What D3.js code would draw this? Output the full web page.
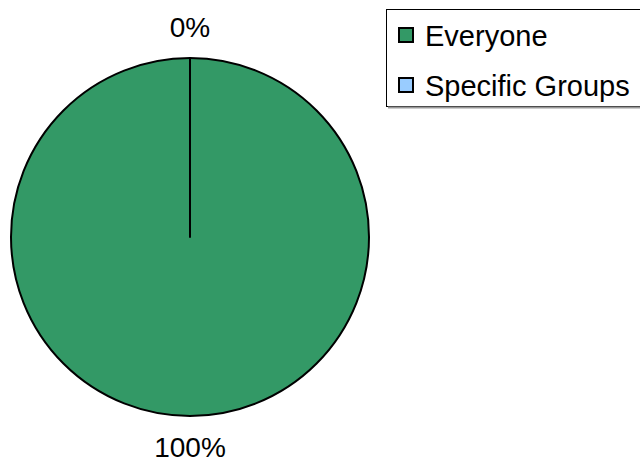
<!DOCTYPE html>
<html><head><meta charset="utf-8">
<script src="https://cdn.jsdelivr.net/npm/d3@7"></script>
<style>body{margin:0;background:#fff}svg{display:block;font-family:"Liberation Sans",Arial,sans-serif}</style>
</head><body><svg id="c" width="640" height="461"></svg>
<script>
const categories = ["Everyone", "Specific Groups"];
const values = [100, 0];
const labels = ["100%", "0%"];
const colors = ["#339966", "#99CCFF"];

const svg = d3.select("#c");
const cx = 190, cy = 237, r = 179;
const g = svg.append("g").attr("transform", `translate(${cx},${cy})`);
const pie = d3.pie().sort(null).value(d => d.v);
const data = pie(categories.map((c, i) => ({c, v: values[i], l: labels[i], col: colors[i]})));
const arc = d3.arc().innerRadius(0).outerRadius(r);
g.selectAll("path").data(data).join("path")
  .attr("d", arc).attr("fill", d => d.data.col)
  .attr("stroke", "#000").attr("stroke-width", 2).attr("stroke-linejoin", "round");
const lab = d3.arc().innerRadius(r + 31).outerRadius(r + 31);
g.selectAll("text").data(data).join("text")
  .attr("x", d => lab.centroid(d)[0]).attr("y", d => lab.centroid(d)[1])
  .attr("text-anchor", "middle").attr("dominant-baseline", "central")
  .attr("font-size", 28).attr("fill", "#000").text(d => d.data.l);

// legend
const lg = svg.append("g");
lg.append("rect").attr("x", 386.5).attr("y", 9.5).attr("width", 270).attr("height", 97)
  .attr("fill", "#fff").attr("stroke", "#000").attr("stroke-width", 1);
lg.append("line").attr("x1", 388).attr("x2", 640).attr("y1", 107.5).attr("y2", 107.5)
  .attr("stroke", "#999").attr("stroke-width", 2);
const row = d3.scaleBand().domain(categories).range([10, 110]);
const items = lg.selectAll("g.i").data(categories).join("g").attr("class", "i")
  .attr("transform", d => `translate(0,${row(d) + row.bandwidth() / 2})`);
items.append("rect").attr("x", 399).attr("y", -7).attr("width", 14).attr("height", 14)
  .attr("fill", (d, i) => colors[i]).attr("stroke", "#000").attr("stroke-width", 2);
items.append("text").attr("x", 425).attr("y", 1).attr("dominant-baseline", "central")
  .attr("font-size", 29).attr("fill", "#000").text(d => d);
</script></body></html>
